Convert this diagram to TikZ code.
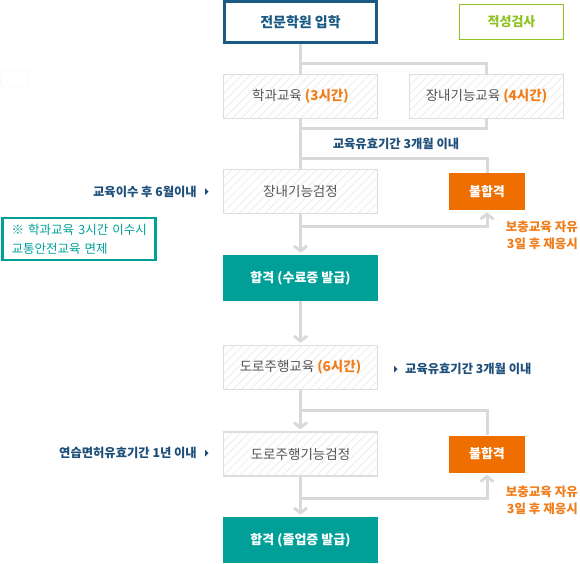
\documentclass[tikz,border=0pt]{standalone}
\usepackage{fontspec}
\setmainfont{Noto Sans CJK KR}
\usetikzlibrary{arrows.meta,patterns.meta}

\definecolor{navy}{HTML}{1B5A84}
\definecolor{navytext}{HTML}{1D4F7A}
\definecolor{lime}{HTML}{8DC21F}
\definecolor{boxline}{HTML}{DDDDDD}
\definecolor{boxtext}{HTML}{555555}
\definecolor{hatch}{HTML}{EFEFEF}
\definecolor{flowline}{HTML}{D9D9D9}
\definecolor{passfill}{HTML}{00A099}
\definecolor{failfill}{HTML}{EE6F00}
\definecolor{hourtext}{HTML}{F07D1A}

\begin{document}
\begin{tikzpicture}[x=1pt,y=-1pt,
  box/.style={shape=rectangle,draw=boxline,line width=1.2pt,pattern={Lines[angle=45,distance=6pt,line width=1pt]},pattern color=hatch,minimum width=154pt,minimum height=44pt,inner sep=0pt,text=boxtext,font=\fontsize{13.5}{15}\selectfont},
  passbox/.style={shape=rectangle,fill=passfill,text=white,minimum width=155pt,minimum height=46pt,inner sep=0pt,font=\bfseries\fontsize{13}{15}\selectfont},
  failbox/.style={shape=rectangle,fill=failfill,text=white,minimum width=76pt,minimum height=37pt,inner sep=0pt,font=\bfseries\fontsize{13}{15}\selectfont},
  flow/.style={draw=flowline,line width=3pt},
  tip/.style={-{Straight Barb[length=5pt,width=13pt]},shorten >=2pt},
  note/.style={text=navytext,inner sep=0pt,font=\bfseries\fontsize{12.3}{14}\selectfont},
  retry/.style={text=hourtext,align=right,inner sep=0pt,font=\bfseries\fontsize{12.5}{17}\selectfont}]
\useasboundingbox (0,0) rectangle (580,563);

\node[shape=rectangle,draw=gray!10,dotted,minimum width=28pt,minimum height=16pt,inner sep=0pt] (skip) at (14.5,78) {};

\node[shape=rectangle,draw=navy,line width=3pt,minimum width=152pt,minimum height=41pt,inner sep=0pt,text=navy,font=\bfseries\fontsize{14}{16}\selectfont] (0) at (300.5,22) {전문학원 입학};
\node[shape=rectangle,draw=lime,line width=1.5pt,minimum width=104pt,minimum height=35pt,inner sep=0pt,text=lime,font=\bfseries\fontsize{13}{15}\selectfont] (1) at (511.5,22) {적성검사};

\node[box] (2) at (300.5,96.5) {학과교육 {\bfseries\color{hourtext}(3시간)}};
\node[box] (3) at (486.5,96.5) {장내기능교육 {\bfseries\color{hourtext}(4시간)}};
\node[box] (4) at (300.5,191.5) {장내기능검정};
\node[failbox] (5) at (487,191.5) {불합격};
\node[passbox] (6) at (300.5,278) {합격 (수료증 발급)};
\node[box] (7) at (300.5,367.5) {도로주행교육 {\bfseries\color{hourtext}(6시간)}};
\node[box] (8) at (300.5,454) {도로주행기능검정};
\node[failbox] (9) at (487,454) {불합격};
\node[passbox] (10) at (300.5,540) {합격 (졸업증 발급)};

\coordinate (c1) at (300.5,63);
\coordinate (c2) at (300.5,128.5);
\coordinate (c3) at (300.5,158);
\coordinate (c4) at (300.5,226);
\coordinate (c5) at (300.5,410);
\coordinate (c6) at (300.5,498);

\path [flow] (0) edge node {} (2);
\draw [flow] (c1) -| (3.north);
\path [flow] (2) edge node {} (4);
\draw [flow] (3.south) |- (c2);
\draw [flow] (c3) -| (5.north);
\path [flow,tip] (4) edge node {} (6);
\draw [flow,tip] (c4) -| (5.south);
\path [flow,tip] (6) edge node {} (7);
\path [flow,tip] (7) edge node {} (8);
\draw [flow] (c5) -| (9.north);
\path [flow,tip] (8) edge node {} (10);
\draw [flow,tip] (c6) -| (9.south);

\node[note] (l1) at (396,144) {교육유효기간 3개월 이내};
\node[note,anchor=east] (l2) at (197,191.5) {교육이수 후 6월이내};
\fill[navytext] (l2.east) ++(8,-3.5) -- ++(3.5,3.5) -- ++(-3.5,3.5) -- cycle;
\node[note,anchor=west] (l3) at (405,369) {교육유효기간 3개월 이내};
\fill[navytext] (l3.west) ++(-11,-3.5) -- ++(3.5,3.5) -- ++(-3.5,3.5) -- cycle;
\node[note,anchor=east] (l4) at (197,453) {연습면허유효기간 1년 이내};
\fill[navytext] (l4.east) ++(8,-3.5) -- ++(3.5,3.5) -- ++(-3.5,3.5) -- cycle;

\node[shape=rectangle,draw=passfill,line width=2.5pt,minimum width=153pt,minimum height=42pt,text width=135pt,inner xsep=9pt,inner ysep=0pt,align=left,text=passfill,font=\fontsize{12.5}{19}\selectfont] (11) at (79,239) {\mbox{※ 학과교육 3시간 이수시}\\교통안전교육 면제};

\node[retry,anchor=east] (12) at (578,235.5) {보충교육 자유\\3일 후 재응시};
\node[retry,anchor=east] (13) at (578,500.5) {보충교육 자유\\3일 후 재응시};
\end{tikzpicture}
\end{document}
